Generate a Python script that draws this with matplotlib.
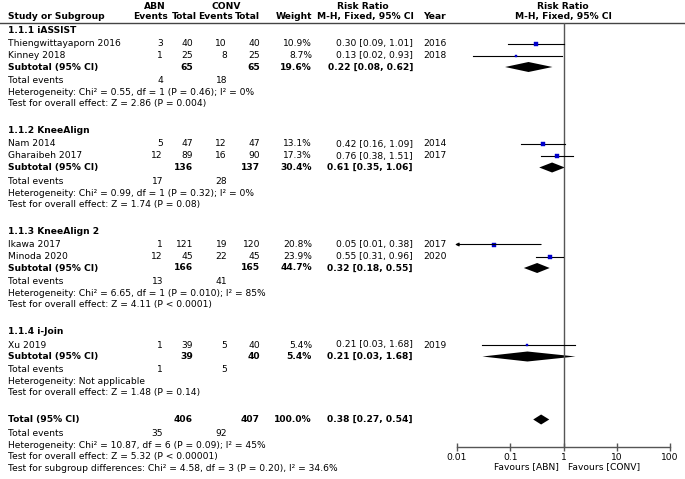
import matplotlib
matplotlib.use("Agg")
import matplotlib.pyplot as plt

plt.rcParams['font.family'] = ['DejaVu Sans']

# ---------------- data ----------------
group_names = ["1.1.1 iASSIST", "1.1.2 KneeAlign", "1.1.3 KneeAlign 2", "1.1.4 i-Join"]
study_names = ["Thiengwittayaporn 2016", "Kinney 2018", "Nam 2014", "Gharaibeh 2017",
               "Ikawa 2017", "Minoda 2020", "Xu 2019"]
study_group = [0, 0, 1, 1, 2, 2, 3]
abn_events = [3, 1, 5, 12, 1, 12, 1]
abn_total = [40, 25, 47, 89, 121, 45, 39]
conv_events = [10, 8, 12, 16, 19, 22, 5]
conv_total = [40, 25, 47, 90, 120, 45, 40]
weights = [10.9, 8.7, 13.1, 17.3, 20.8, 23.9, 5.4]
rr = [0.30, 0.13, 0.42, 0.76, 0.05, 0.55, 0.21]
rr_lo = [0.09, 0.02, 0.16, 0.38, 0.01, 0.31, 0.03]
rr_hi = [1.01, 0.93, 1.09, 1.51, 0.38, 0.96, 1.68]
years = [2016, 2018, 2014, 2017, 2017, 2020, 2019]

sub_abn_total = [65, 136, 166, 39]
sub_conv_total = [65, 137, 165, 40]
sub_weight = [19.6, 30.4, 44.7, 5.4]
sub_rr = [0.22, 0.61, 0.32, 0.21]
sub_lo = [0.08, 0.35, 0.18, 0.03]
sub_hi = [0.62, 1.06, 0.55, 1.68]
sub_abn_events = [4, 17, 13, 1]
sub_conv_events = [18, 28, 41, 5]
sub_het = ["Heterogeneity: Chi² = 0.55, df = 1 (P = 0.46); I² = 0%",
           "Heterogeneity: Chi² = 0.99, df = 1 (P = 0.32); I² = 0%",
           "Heterogeneity: Chi² = 6.65, df = 1 (P = 0.010); I² = 85%",
           "Heterogeneity: Not applicable"]
sub_test = ["Test for overall effect: Z = 2.86 (P = 0.004)",
            "Test for overall effect: Z = 1.74 (P = 0.08)",
            "Test for overall effect: Z = 4.11 (P < 0.0001)",
            "Test for overall effect: Z = 1.48 (P = 0.14)"]

tot_abn_total, tot_conv_total, tot_weight = 406, 407, 100.0
tot_rr, tot_lo, tot_hi = 0.38, 0.27, 0.54
tot_abn_events, tot_conv_events = 35, 92
tot_het = "Heterogeneity: Chi² = 10.87, df = 6 (P = 0.09); I² = 45%"
tot_test = "Test for overall effect: Z = 5.32 (P < 0.00001)"
tot_sub = "Test for subgroup differences: Chi² = 4.58, df = 3 (P = 0.20), I² = 34.6%"

axis_ticks = [0.01, 0.1, 1, 10, 100]
axis_ticklabels = ["0.01", "0.1", "1", "10", "100"]

# ---------------- layout ----------------
W, H = 685, 479
fig = plt.figure(figsize=(W / 100, H / 100), dpi=100)
tx = fig.add_axes([0, 0, 1, 1])
tx.set_xlim(0, W)
tx.set_ylim(H, 0)
tx.axis("off")

FS = 6.6
X_NAME = 8
X_AEV, X_ATOT, X_CEV, X_CTOT, X_W = 163, 193, 227, 260, 312
X_RR = 413
X_YEAR = 423
PLOT_L, PLOT_R = 457, 670
AXIS_Y, TOP_Y = 447, 22.5


def t(x, y, s, ha="left", bold=False, **kw):
    tx.text(x, y, s, ha=ha, va="center", fontsize=FS,
            fontweight="bold" if bold else "normal", color="black", **kw)


# headers
t(155, 6, "ABN", ha="center", bold=True)
t(226, 6, "CONV", ha="center", bold=True)
t(363, 6, "Risk Ratio", ha="center", bold=True)
t(563, 6, "Risk Ratio", ha="center", bold=True)
t(X_NAME, 16.5, "Study or Subgroup", bold=True)
t(168, 16.5, "Events", ha="right", bold=True)
t(197, 16.5, "Total", ha="right", bold=True)
t(233, 16.5, "Events", ha="right", bold=True)
t(260, 16.5, "Total", ha="right", bold=True)
t(312, 16.5, "Weight", ha="right", bold=True)
t(365, 16.5, "M-H, Fixed, 95% CI", ha="center", bold=True)
t(X_YEAR, 16.5, "Year", bold=True)
t(563, 16.5, "M-H, Fixed, 95% CI", ha="center", bold=True)
tx.plot([0, W], [TOP_Y, TOP_Y], color="#444444", lw=1.0)

# forest axes
ax = fig.add_axes([PLOT_L / W, (H - AXIS_Y) / H, (PLOT_R - PLOT_L) / W, (AXIS_Y - TOP_Y) / H])
ax.set_xscale("log")
ax.set_xlim(0.01, 100)
ax.set_ylim(AXIS_Y, TOP_Y)
ax.patch.set_alpha(0)
for s in ["top", "left", "right"]:
    ax.spines[s].set_visible(False)
ax.spines["bottom"].set_color("#555555")
ax.spines["bottom"].set_linewidth(1.0)
ax.set_yticks([])
ax.set_xticks(axis_ticks)
ax.set_xticklabels(axis_ticklabels)
ax.minorticks_off()
ax.tick_params(axis="x", direction="inout", length=6, width=1.0, color="#555555",
               labelsize=FS, pad=1)
ax.axvline(1, color="#555555", lw=1.0)

fig.text(559 / W, 1 - 467 / H, "Favours [ABN]", ha="right", va="center", fontsize=FS)
fig.text(568 / W, 1 - 467 / H, "Favours [CONV]", ha="left", va="center", fontsize=FS)

DH = 5.0


def diamond(lo, est, hi, y):
    ax.fill([lo, est, hi, est], [y, y - DH, y, y + DH], color="black", lw=0)


y = 30.0
for g, gname in enumerate(group_names):
    t(X_NAME, y, gname, bold=True)
    y += 13.5
    idx = [i for i, sg in enumerate(study_group) if sg == g]
    for k, i in enumerate(idx):
        t(X_NAME, y, study_names[i])
        t(X_AEV, y, str(abn_events[i]), ha="right")
        t(X_ATOT, y, str(abn_total[i]), ha="right")
        t(X_CEV, y, str(conv_events[i]), ha="right")
        t(X_CTOT, y, str(conv_total[i]), ha="right")
        t(X_W, y, f"{weights[i]:.1f}%", ha="right")
        t(X_RR, y, f"{rr[i]:.2f} [{rr_lo[i]:.2f}, {rr_hi[i]:.2f}]", ha="right")
        t(X_YEAR, y, str(years[i]))
        if rr_lo[i] <= 0.01:
            ax.annotate("", xy=(0.0092, y), xytext=(rr_hi[i], y),
                        arrowprops=dict(arrowstyle="-|>", lw=0.8, color="black",
                                        mutation_scale=5, shrinkA=0, shrinkB=0),
                        annotation_clip=False)
        else:
            ax.plot([rr_lo[i], rr_hi[i]], [y, y], color="black", lw=0.8)
        ms = 0.7 * weights[i] ** 0.5
        ax.plot(rr[i], y, marker="s", ms=ms, color="#0000CC", mec="#0000CC", mew=0.3)
        if k < len(idx) - 1:
            y += 12
        else:
            y += 11.5
    t(X_NAME, y, "Subtotal (95% CI)", bold=True)
    t(X_ATOT, y, str(sub_abn_total[g]), ha="right", bold=True)
    t(X_CTOT, y, str(sub_conv_total[g]), ha="right", bold=True)
    t(X_W, y, f"{sub_weight[g]:.1f}%", ha="right", bold=True)
    t(X_RR, y, f"{sub_rr[g]:.2f} [{sub_lo[g]:.2f}, {sub_hi[g]:.2f}]", ha="right", bold=True)
    diamond(sub_lo[g], sub_rr[g], sub_hi[g], y)
    y += 13.5
    t(X_NAME, y, "Total events")
    t(X_AEV, y, str(sub_abn_events[g]), ha="right")
    t(X_CEV, y, str(sub_conv_events[g]), ha="right")
    y += 12
    t(X_NAME, y, sub_het[g])
    y += 11
    t(X_NAME, y, sub_test[g])
    y += 27

y -= 0.5
t(X_NAME, y, "Total (95% CI)", bold=True)
t(X_ATOT, y, str(tot_abn_total), ha="right", bold=True)
t(X_CTOT, y, str(tot_conv_total), ha="right", bold=True)
t(X_W, y, f"{tot_weight:.1f}%", ha="right", bold=True)
t(X_RR, y, f"{tot_rr:.2f} [{tot_lo:.2f}, {tot_hi:.2f}]", ha="right", bold=True)
diamond(tot_lo, tot_rr, tot_hi, y)
y += 13.5
t(X_NAME, y, "Total events")
t(X_AEV, y, str(tot_abn_events), ha="right")
t(X_CEV, y, str(tot_conv_events), ha="right")
y += 12
t(X_NAME, y, tot_het)
y += 11.5
t(X_NAME, y, tot_test)
y += 12
t(X_NAME, y, tot_sub)

fig.savefig("out.png", dpi=100)
